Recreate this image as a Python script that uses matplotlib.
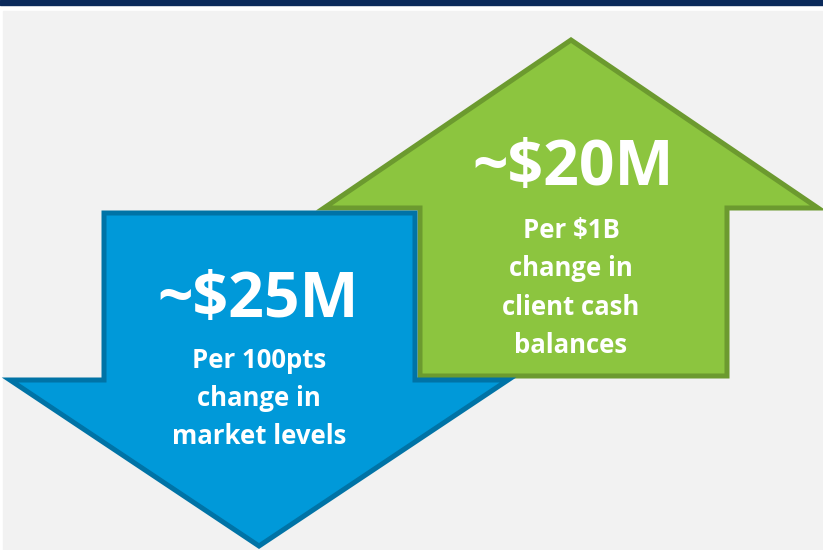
import matplotlib.pyplot as plt
from matplotlib.patches import Polygon, Rectangle

# text shown in each arrow
big_labels = ["~$25M", "~$20M"]
sub_labels = [["Per 100pts", "change in", "market levels"],
              ["Per $1B", "change in", "client cash", "balances"]]

# arrow geometry in pixels (figure is 823 x 550, y grows downward)
# (shaft_left, shaft_right, shaft_end, head_left, head_right, head_base, tip)
down_arrow = (104, 415, 213, 10, 508, 380, 546)
up_arrow = (420, 727, 376, 324, 818, 208, 40)

blue_fill, blue_edge = "#0099d9", "#0073a6"
green_fill, green_edge = "#8cc53f", "#6c9a2f"

plt.rcParams["font.family"] = ["Open Sans", "DejaVu Sans"]


def arrow_points(shaft_l, shaft_r, shaft_end, head_l, head_r, head_base, tip):
    mid = (head_l + head_r) / 2
    return [(shaft_l, shaft_end), (shaft_r, shaft_end), (shaft_r, head_base),
            (head_r, head_base), (mid, tip), (head_l, head_base),
            (shaft_l, head_base)]


fig = plt.figure(figsize=(8.23, 5.5), dpi=100)
ax = fig.add_axes([0, 0, 1, 1])
ax.set_xlim(0, 823)
ax.set_ylim(550, 0)
ax.axis("off")

# background: navy strip on top, grey panel
ax.add_patch(Rectangle((0, 0), 823, 4.5, color="#0b2a5b", zorder=0))
ax.add_patch(Rectangle((3, 11), 820, 545, color="#f2f2f2", zorder=0))

ax.add_patch(Polygon(arrow_points(*up_arrow), closed=True, facecolor=green_fill,
                     edgecolor=green_edge, linewidth=3.6, joinstyle="miter", zorder=1))
ax.add_patch(Polygon(arrow_points(*down_arrow), closed=True, facecolor=blue_fill,
                     edgecolor=blue_edge, linewidth=3.6, joinstyle="miter", zorder=2))

# labels
ax.text(258, 301, big_labels[0], color="white", fontsize=45, fontweight="bold",
        ha="center", va="center", zorder=3)
for i, line in enumerate(sub_labels[0]):
    ax.text(259, 360 + i * 38.5, line, color="white", fontsize=18.5, fontweight="bold",
            ha="center", va="center", zorder=3)

ax.text(573, 168, big_labels[1], color="white", fontsize=45, fontweight="bold",
        ha="center", va="center", zorder=3)
for i, line in enumerate(sub_labels[1]):
    ax.text(571, 230.5 + i * 38.3, line, color="white", fontsize=18.5, fontweight="bold",
            ha="center", va="center", zorder=3)

fig.savefig("out.png", dpi=100, facecolor="white")
